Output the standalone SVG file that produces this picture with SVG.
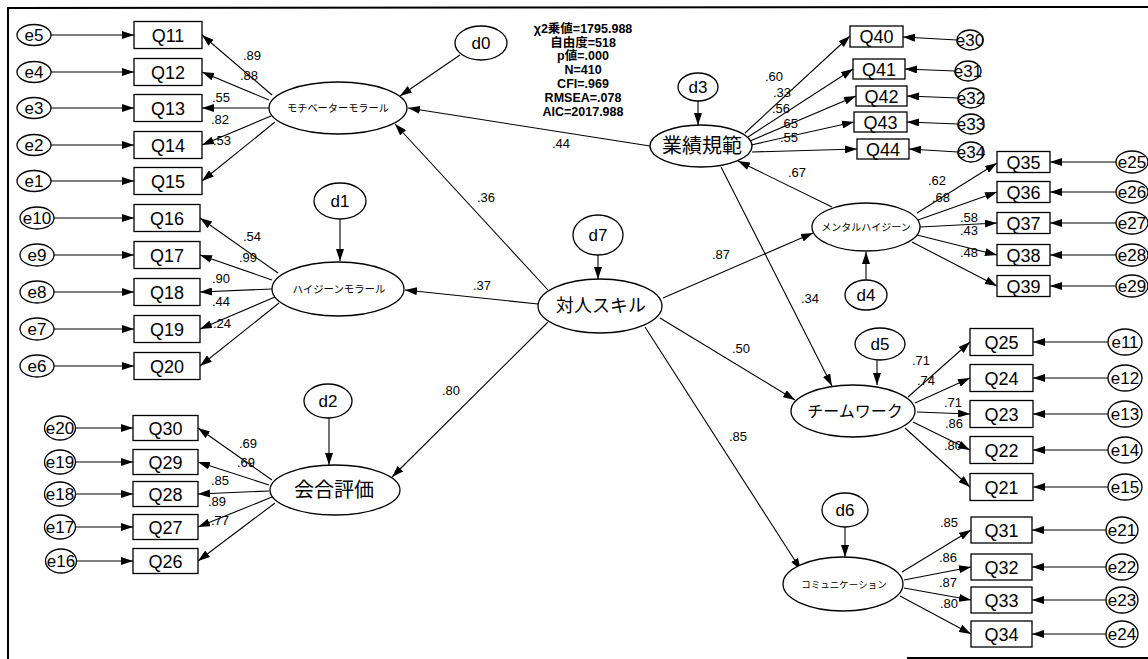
<svg xmlns="http://www.w3.org/2000/svg" width="1148" height="659" viewBox="0 0 1148 659">
<defs>
<marker id="ah" viewBox="0 0 12 8" markerWidth="12" markerHeight="8" refX="12" refY="4" orient="auto" markerUnits="userSpaceOnUse">
<path d="M0,0 L12,4 L0,8 z" fill="#000"/>
</marker>
<style>
.n{fill:#fff;stroke:#000;stroke-width:1.3}
.c line{stroke:#000;stroke-width:1.1;marker-end:url(#ah)}
.q{font-family:"Liberation Sans",Arial,sans-serif;font-size:18px;text-anchor:middle;fill:#000}
.e{font-family:"Liberation Sans",Arial,sans-serif;font-size:17px;text-anchor:middle;fill:#000}
.v{font-family:"Liberation Sans",Arial,sans-serif;font-size:13px;fill:#000}
.j{font-family:"Noto Sans CJK JP","Liberation Sans",sans-serif;text-anchor:middle;fill:#000}
.s{font-family:"Liberation Sans","Noto Sans CJK JP",sans-serif;font-size:12.5px;font-weight:bold;text-anchor:middle;fill:#000}
</style>
</defs>
<rect width="1148" height="659" fill="#fff"/>
<g id="frame" stroke="#000" stroke-width="2" fill="none">
<line x1="8" y1="8" x2="1148" y2="7"/>
<line x1="8" y1="7" x2="8" y2="659"/>
<line x1="907" y1="658" x2="1148" y2="658"/>
</g>

<g id="connectors" class="c">
<!-- e -> Q left block 1 -->
<line x1="51" y1="35" x2="134" y2="35"/>
<line x1="51" y1="72" x2="134" y2="72"/>
<line x1="51" y1="108" x2="134" y2="108"/>
<line x1="51" y1="145" x2="134" y2="145"/>
<line x1="51" y1="181" x2="134" y2="181"/>
<!-- moti -> Q -->
<line x1="272" y1="95" x2="202" y2="35"/>
<line x1="269" y1="100" x2="202" y2="72"/>
<line x1="269" y1="108" x2="202" y2="108"/>
<line x1="271" y1="116" x2="202" y2="145"/>
<line x1="275" y1="122" x2="202" y2="181"/>
<!-- e -> Q block 2 -->
<line x1="54" y1="218" x2="134" y2="218"/>
<line x1="54" y1="255" x2="134" y2="255"/>
<line x1="54" y1="292" x2="134" y2="292"/>
<line x1="54" y1="329" x2="134" y2="329"/>
<line x1="54" y1="366" x2="134" y2="366"/>
<!-- hyg -> Q -->
<line x1="278" y1="273" x2="200" y2="218"/>
<line x1="272" y1="280" x2="200" y2="255"/>
<line x1="272" y1="289" x2="200" y2="292"/>
<line x1="275" y1="297" x2="200" y2="329"/>
<line x1="279" y1="303" x2="200" y2="366"/>
<!-- e -> Q block 3 -->
<line x1="76" y1="428" x2="133" y2="428"/>
<line x1="76" y1="462" x2="133" y2="462"/>
<line x1="76" y1="494" x2="133" y2="494"/>
<line x1="76" y1="527" x2="133" y2="527"/>
<line x1="76" y1="561" x2="133" y2="561"/>
<!-- kaigo -> Q -->
<line x1="272" y1="480" x2="198" y2="428"/>
<line x1="269" y1="485" x2="198" y2="462"/>
<line x1="269" y1="491" x2="198" y2="494"/>
<line x1="272" y1="497" x2="198" y2="527"/>
<line x1="275" y1="503" x2="198" y2="561"/>
<!-- gyoseki -> Q40-44 -->
<line x1="745" y1="133" x2="850" y2="36"/>
<line x1="748" y1="137" x2="853" y2="69"/>
<line x1="750" y1="141" x2="856" y2="96"/>
<line x1="751" y1="145" x2="854" y2="122"/>
<line x1="752" y1="152" x2="857" y2="149"/>
<!-- e30-34 -> Q -->
<line x1="957" y1="40" x2="903" y2="37"/>
<line x1="955" y1="71" x2="905" y2="69"/>
<line x1="958" y1="98" x2="907" y2="96"/>
<line x1="958" y1="124" x2="907" y2="122"/>
<line x1="958" y1="152" x2="909" y2="149"/>
<!-- mental -> Q35-39 -->
<line x1="917" y1="213" x2="997" y2="163"/>
<line x1="918" y1="220" x2="997" y2="192"/>
<line x1="920" y1="227" x2="997" y2="223"/>
<line x1="917" y1="235" x2="997" y2="255"/>
<line x1="912" y1="242" x2="997" y2="286"/>
<!-- e25-29 -> Q -->
<line x1="1116" y1="162" x2="1050" y2="162"/>
<line x1="1116" y1="192" x2="1050" y2="192"/>
<line x1="1116" y1="223" x2="1050" y2="223"/>
<line x1="1116" y1="255" x2="1050" y2="255"/>
<line x1="1116" y1="286" x2="1050" y2="286"/>
<!-- team -> Q25-21 -->
<line x1="908" y1="397" x2="970" y2="342"/>
<line x1="915" y1="403" x2="970" y2="378"/>
<line x1="917" y1="412" x2="970" y2="414"/>
<line x1="913" y1="422" x2="970" y2="450"/>
<line x1="905" y1="428" x2="970" y2="487"/>
<!-- e11-15 -> Q -->
<line x1="1108" y1="342" x2="1033" y2="342"/>
<line x1="1108" y1="378" x2="1033" y2="378"/>
<line x1="1108" y1="414" x2="1033" y2="414"/>
<line x1="1108" y1="450" x2="1033" y2="450"/>
<line x1="1108" y1="487" x2="1033" y2="487"/>
<!-- comm -> Q31-34 -->
<line x1="902" y1="572" x2="971" y2="530"/>
<line x1="904" y1="580" x2="971" y2="567"/>
<line x1="904" y1="588" x2="971" y2="600"/>
<line x1="900" y1="596" x2="971" y2="634"/>
<!-- e21-24 -> Q -->
<line x1="1106" y1="530" x2="1032" y2="530"/>
<line x1="1106" y1="567" x2="1032" y2="567"/>
<line x1="1106" y1="600" x2="1032" y2="600"/>
<line x1="1106" y1="634" x2="1032" y2="634"/>
<!-- disturbances -->
<line x1="460" y1="55" x2="400" y2="96"/>
<line x1="340" y1="219" x2="340" y2="261"/>
<line x1="329" y1="418" x2="329" y2="465"/>
<line x1="698" y1="101" x2="698" y2="125"/>
<line x1="866" y1="280" x2="866" y2="252"/>
<line x1="877" y1="360" x2="877" y2="385"/>
<line x1="845" y1="527" x2="845" y2="557"/>
<line x1="598" y1="255" x2="598" y2="279"/>
<!-- structural -->
<line x1="548" y1="290" x2="395" y2="124"/>
<line x1="538" y1="304" x2="405" y2="290"/>
<line x1="548" y1="322" x2="392" y2="477"/>
<line x1="663" y1="298" x2="813" y2="233"/>
<line x1="660" y1="318" x2="795" y2="400"/>
<line x1="645" y1="327" x2="801" y2="570"/>
<line x1="650" y1="146" x2="408" y2="108"/>
<line x1="832" y1="207" x2="738" y2="161"/>
<line x1="721" y1="167" x2="832" y2="386"/>
</g>

<g id="coefficients" class="v">
<text x="243" y="60">.89</text><text x="240" y="80">.88</text><text x="212" y="102">.55</text><text x="211" y="124">.82</text><text x="213" y="145">.53</text>
<text x="243" y="241">.54</text><text x="239" y="262">.99</text><text x="212" y="283">.90</text><text x="212" y="306">.44</text><text x="213" y="328">.24</text>
<text x="239" y="448">.69</text><text x="237" y="467">.69</text><text x="211" y="485">.85</text><text x="208" y="506">.89</text><text x="211" y="525">.77</text>
<text x="765" y="81">.60</text><text x="773" y="97">.33</text><text x="772" y="113">.56</text><text x="780" y="128">.65</text><text x="780" y="142">.55</text>
<text x="928" y="185">.62</text><text x="932" y="202">.68</text><text x="960" y="222">.58</text><text x="960" y="235">.43</text><text x="960" y="257">.48</text>
<text x="912" y="365">.71</text><text x="917" y="385">.74</text><text x="944" y="407">.71</text><text x="945" y="428">.86</text><text x="944" y="450">.80</text>
<text x="940" y="527">.85</text><text x="939" y="562">.86</text><text x="939" y="587">.87</text><text x="940" y="608">.80</text>
<text x="477" y="202">.36</text><text x="473" y="290">.37</text><text x="442" y="395">.80</text><text x="712" y="259">.87</text><text x="732" y="353">.50</text><text x="729" y="441">.85</text>
<text x="552" y="148">.44</text><text x="788" y="177">.67</text><text x="801" y="303">.34</text>
</g>

<g id="stats" class="s">
<text x="583" y="33">χ2乗値=1795.988</text>
<text x="583" y="47">自由度=518</text>
<text x="583" y="60">p値=.000</text>
<text x="583" y="74">N=410</text>
<text x="583" y="88">CFI=.969</text>
<text x="583" y="102">RMSEA=.078</text>
<text x="583" y="116">AIC=2017.988</text>
</g>

<!-- latent variables -->
<g id="moti"><ellipse class="n" cx="338" cy="108" rx="69" ry="26"/><text class="j" x="338" y="112" font-size="10.2">モチベーターモラール</text></g>
<g id="hyg"><ellipse class="n" cx="338" cy="289" rx="66" ry="27"/><text class="j" x="339" y="293" font-size="10.4">ハイジーンモラール</text></g>
<g id="kaigo"><ellipse class="n" cx="335" cy="490" rx="65" ry="25"/><text class="j" x="334" y="497" font-size="20">会合評価</text></g>
<g id="taijin"><ellipse class="n" cx="600" cy="306" rx="62" ry="27"/><text class="j" x="601" y="312" font-size="18">対人スキル</text></g>
<g id="gyoseki"><ellipse class="n" cx="701" cy="146" rx="51" ry="21"/><text class="j" x="702" y="153" font-size="20">業績規範</text></g>
<g id="mental"><ellipse class="n" cx="866" cy="227" rx="54" ry="24"/><text class="j" x="866" y="231" font-size="10">メンタルハイジーン</text></g>
<g id="team"><ellipse class="n" cx="853" cy="411" rx="62" ry="26"/><text class="j" x="855" y="417" font-size="16">チームワーク</text></g>
<g id="comm"><ellipse class="n" cx="843" cy="584" rx="60" ry="27"/><text class="j" x="844" y="588" font-size="9.5">コミュニケーション</text></g>

<!-- disturbances -->
<g id="d0"><ellipse class="n" cx="481" cy="43" rx="26" ry="17"/><text class="e" x="481" y="49">d0</text></g>
<g id="d1"><ellipse class="n" cx="340" cy="201" rx="26" ry="18"/><text class="e" x="340" y="207">d1</text></g>
<g id="d2"><ellipse class="n" cx="328" cy="401" rx="24" ry="17"/><text class="e" x="328" y="407">d2</text></g>
<g id="d3"><ellipse class="n" cx="698" cy="87" rx="20" ry="14"/><text class="e" x="698" y="93">d3</text></g>
<g id="d4"><ellipse class="n" cx="866" cy="295" rx="21" ry="15"/><text class="e" x="866" y="301">d4</text></g>
<g id="d5"><ellipse class="n" cx="880" cy="344" rx="25" ry="16"/><text class="e" x="880" y="350">d5</text></g>
<g id="d6"><ellipse class="n" cx="845" cy="510" rx="23" ry="17"/><text class="e" x="845" y="516">d6</text></g>
<g id="d7"><ellipse class="n" cx="598" cy="235" rx="25" ry="20"/><text class="e" x="598" y="241">d7</text></g>

<!-- observed: left block 1 -->
<g id="Q11"><rect class="n" x="134" y="21.5" width="68" height="27"/><text class="q" x="168" y="41.5">Q11</text></g>
<g id="Q12"><rect class="n" x="134" y="58.5" width="68" height="27"/><text class="q" x="168" y="78.5">Q12</text></g>
<g id="Q13"><rect class="n" x="134" y="94.5" width="68" height="27"/><text class="q" x="168" y="114.5">Q13</text></g>
<g id="Q14"><rect class="n" x="134" y="131.5" width="68" height="27"/><text class="q" x="168" y="151.5">Q14</text></g>
<g id="Q15"><rect class="n" x="134" y="167.5" width="68" height="27"/><text class="q" x="168" y="187.5">Q15</text></g>
<g id="e5"><ellipse class="n" cx="34" cy="35" rx="17" ry="10.5"/><text class="e" x="34" y="41">e5</text></g>
<g id="e4"><ellipse class="n" cx="34" cy="72" rx="17" ry="10.5"/><text class="e" x="34" y="78">e4</text></g>
<g id="e3"><ellipse class="n" cx="34" cy="108" rx="17" ry="10.5"/><text class="e" x="34" y="114">e3</text></g>
<g id="e2"><ellipse class="n" cx="34" cy="145" rx="17" ry="10.5"/><text class="e" x="34" y="151">e2</text></g>
<g id="e1"><ellipse class="n" cx="34" cy="181" rx="17" ry="10.5"/><text class="e" x="34" y="187">e1</text></g>

<!-- left block 2 -->
<g id="Q16"><rect class="n" x="134" y="204.5" width="66" height="27"/><text class="q" x="167" y="224.5">Q16</text></g>
<g id="Q17"><rect class="n" x="134" y="241.5" width="66" height="27"/><text class="q" x="167" y="261.5">Q17</text></g>
<g id="Q18"><rect class="n" x="134" y="278.5" width="66" height="27"/><text class="q" x="167" y="298.5">Q18</text></g>
<g id="Q19"><rect class="n" x="134" y="315.5" width="66" height="27"/><text class="q" x="167" y="335.5">Q19</text></g>
<g id="Q20"><rect class="n" x="134" y="352.5" width="66" height="27"/><text class="q" x="167" y="372.5">Q20</text></g>
<g id="e10"><ellipse class="n" cx="37" cy="218" rx="17" ry="11"/><text class="e" x="37" y="224">e10</text></g>
<g id="e9"><ellipse class="n" cx="37" cy="255" rx="17" ry="11"/><text class="e" x="37" y="261">e9</text></g>
<g id="e8"><ellipse class="n" cx="37" cy="292" rx="17" ry="11"/><text class="e" x="37" y="298">e8</text></g>
<g id="e7"><ellipse class="n" cx="37" cy="329" rx="17" ry="11"/><text class="e" x="37" y="335">e7</text></g>
<g id="e6"><ellipse class="n" cx="37" cy="366" rx="17" ry="11"/><text class="e" x="37" y="372">e6</text></g>

<!-- left block 3 -->
<g id="Q30"><rect class="n" x="133" y="415.5" width="65" height="25"/><text class="q" x="165.5" y="434.5">Q30</text></g>
<g id="Q29"><rect class="n" x="133" y="449.5" width="65" height="25"/><text class="q" x="165.5" y="468.5">Q29</text></g>
<g id="Q28"><rect class="n" x="133" y="481.5" width="65" height="25"/><text class="q" x="165.5" y="500.5">Q28</text></g>
<g id="Q27"><rect class="n" x="133" y="514.5" width="65" height="25"/><text class="q" x="165.5" y="533.5">Q27</text></g>
<g id="Q26"><rect class="n" x="133" y="548.5" width="65" height="25"/><text class="q" x="165.5" y="567.5">Q26</text></g>
<g id="e20"><ellipse class="n" cx="60" cy="428" rx="15.5" ry="12"/><text class="e" x="60" y="434">e20</text></g>
<g id="e19"><ellipse class="n" cx="60" cy="462" rx="15.5" ry="12"/><text class="e" x="60" y="468">e19</text></g>
<g id="e18"><ellipse class="n" cx="60" cy="494" rx="15.5" ry="12"/><text class="e" x="60" y="500">e18</text></g>
<g id="e17"><ellipse class="n" cx="60" cy="527" rx="15.5" ry="12"/><text class="e" x="60" y="533">e17</text></g>
<g id="e16"><ellipse class="n" cx="61" cy="561" rx="15.5" ry="12"/><text class="e" x="61" y="567">e16</text></g>

<!-- right top block -->
<g id="Q40"><rect class="n" x="850" y="26" width="53" height="21"/><text class="q" x="876.5" y="43">Q40</text></g>
<g id="Q41"><rect class="n" x="853" y="59" width="52" height="20"/><text class="q" x="879" y="75.5">Q41</text></g>
<g id="Q42"><rect class="n" x="856" y="86" width="51" height="20"/><text class="q" x="881.5" y="102.5">Q42</text></g>
<g id="Q43"><rect class="n" x="854" y="112" width="53" height="20"/><text class="q" x="880.5" y="128.5">Q43</text></g>
<g id="Q44"><rect class="n" x="857" y="139" width="52" height="20"/><text class="q" x="883" y="155.5">Q44</text></g>
<g id="e30"><ellipse class="n" cx="970" cy="40" rx="13" ry="10"/><text class="e" x="970" y="46">e30</text></g>
<g id="e31"><ellipse class="n" cx="968" cy="71" rx="13" ry="10"/><text class="e" x="968" y="77">e31</text></g>
<g id="e32"><ellipse class="n" cx="971" cy="98" rx="13" ry="10"/><text class="e" x="971" y="104">e32</text></g>
<g id="e33"><ellipse class="n" cx="971" cy="124" rx="13" ry="10"/><text class="e" x="971" y="130">e33</text></g>
<g id="e34"><ellipse class="n" cx="971" cy="152" rx="13" ry="10"/><text class="e" x="971" y="158">e34</text></g>

<!-- mental block -->
<g id="Q35"><rect class="n" x="997" y="151.5" width="53" height="21"/><text class="q" x="1023.5" y="168.5">Q35</text></g>
<g id="Q36"><rect class="n" x="997" y="181.5" width="53" height="21"/><text class="q" x="1023.5" y="198.5">Q36</text></g>
<g id="Q37"><rect class="n" x="997" y="212.5" width="53" height="21"/><text class="q" x="1023.5" y="229.5">Q37</text></g>
<g id="Q38"><rect class="n" x="997" y="244.5" width="53" height="21"/><text class="q" x="1023.5" y="261.5">Q38</text></g>
<g id="Q39"><rect class="n" x="997" y="275.5" width="53" height="21"/><text class="q" x="1023.5" y="292.5">Q39</text></g>
<g id="e25"><ellipse class="n" cx="1132" cy="162" rx="16" ry="11"/><text class="e" x="1132" y="168">e25</text></g>
<g id="e26"><ellipse class="n" cx="1132" cy="192" rx="16" ry="11"/><text class="e" x="1132" y="198">e26</text></g>
<g id="e27"><ellipse class="n" cx="1132" cy="223" rx="16" ry="11"/><text class="e" x="1132" y="229">e27</text></g>
<g id="e28"><ellipse class="n" cx="1132" cy="255" rx="16" ry="11"/><text class="e" x="1132" y="261">e28</text></g>
<g id="e29"><ellipse class="n" cx="1132" cy="286" rx="16" ry="11"/><text class="e" x="1132" y="292">e29</text></g>

<!-- team block -->
<g id="Q25"><rect class="n" x="970" y="328.5" width="63" height="27"/><text class="q" x="1001.5" y="348.5">Q25</text></g>
<g id="Q24"><rect class="n" x="970" y="364.5" width="63" height="27"/><text class="q" x="1001.5" y="384.5">Q24</text></g>
<g id="Q23"><rect class="n" x="970" y="400.5" width="63" height="27"/><text class="q" x="1001.5" y="420.5">Q23</text></g>
<g id="Q22"><rect class="n" x="970" y="436.5" width="63" height="27"/><text class="q" x="1001.5" y="456.5">Q22</text></g>
<g id="Q21"><rect class="n" x="970" y="473.5" width="63" height="27"/><text class="q" x="1001.5" y="493.5">Q21</text></g>
<g id="e11"><ellipse class="n" cx="1125" cy="342" rx="17" ry="13"/><text class="e" x="1125" y="348">e11</text></g>
<g id="e12"><ellipse class="n" cx="1125" cy="378" rx="17" ry="13"/><text class="e" x="1125" y="384">e12</text></g>
<g id="e13"><ellipse class="n" cx="1125" cy="414" rx="17" ry="13"/><text class="e" x="1125" y="420">e13</text></g>
<g id="e14"><ellipse class="n" cx="1125" cy="450" rx="17" ry="13"/><text class="e" x="1125" y="456">e14</text></g>
<g id="e15"><ellipse class="n" cx="1125" cy="487" rx="17" ry="13"/><text class="e" x="1125" y="493">e15</text></g>

<!-- comm block -->
<g id="Q31"><rect class="n" x="971" y="517" width="61" height="26"/><text class="q" x="1001.5" y="536.5">Q31</text></g>
<g id="Q32"><rect class="n" x="971" y="554" width="61" height="26"/><text class="q" x="1001.5" y="573.5">Q32</text></g>
<g id="Q33"><rect class="n" x="971" y="587" width="61" height="26"/><text class="q" x="1001.5" y="606.5">Q33</text></g>
<g id="Q34"><rect class="n" x="971" y="621" width="61" height="26"/><text class="q" x="1001.5" y="640.5">Q34</text></g>
<g id="e21"><ellipse class="n" cx="1122" cy="530" rx="16" ry="13"/><text class="e" x="1122" y="536">e21</text></g>
<g id="e22"><ellipse class="n" cx="1122" cy="567" rx="16" ry="13"/><text class="e" x="1122" y="573">e22</text></g>
<g id="e23"><ellipse class="n" cx="1122" cy="600" rx="16" ry="13"/><text class="e" x="1122" y="606">e23</text></g>
<g id="e24"><ellipse class="n" cx="1122" cy="634" rx="16" ry="13"/><text class="e" x="1122" y="640">e24</text></g>
</svg>
